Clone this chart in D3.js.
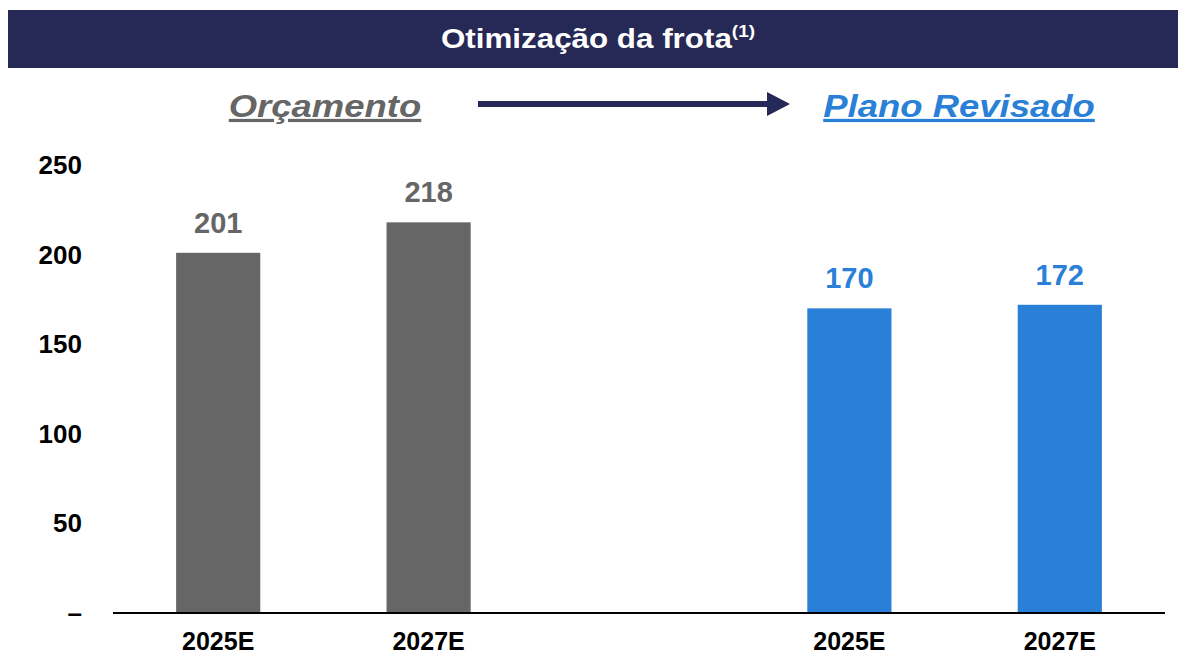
<!DOCTYPE html>
<html>
<head>
<meta charset="utf-8">
<script src="https://cdn.jsdelivr.net/npm/d3@7"></script>
<style>
  body { margin: 0; background: #fff; }
  text { font-family: "Liberation Sans", Arial, sans-serif; font-weight: bold; }
</style>
</head>
<body>
<div id="chart"></div>
<script>
const width = 1178
const height = 657
const margin = { left: 113, right: 13, top: 165, bottom: 44 }

const navy = "#262855"
const grey = "#666666"
const blue = "#2a7fd6"

// data
const slots = ["orc-2025E", "orc-2027E", "gap", "rev-2025E", "rev-2027E"]
const categories = ["orc-2025E", "orc-2027E", "rev-2025E", "rev-2027E"]
const yearLabels = ["2025E", "2027E", "2025E", "2027E"]
const values = [201, 218, 170, 172]
const groups = ["orc", "orc", "rev", "rev"]
const yTicks = [0, 50, 100, 150, 200, 250]

const svg = d3.select("#chart").append("svg").attr("width", width).attr("height", height)

// title bar
svg.append("rect").attr("x", 8).attr("y", 10).attr("width", width - 8).attr("height", 58).attr("fill", navy)
const title = svg.append("text")
    .attr("transform", "translate(598,48) scale(1.12,1)")
    .attr("text-anchor", "middle")
    .attr("fill", "white")
    .attr("font-size", 28)
title.append("tspan").text("Otimização da frota")
title.append("tspan").text("(1)").attr("font-size", 17).attr("dy", -11)

var x = d3.scaleBand().domain(slots).range([margin.left, width - margin.right]).paddingInner(0.6).paddingOuter(0.3)
var y = d3.scaleLinear().domain([0, 250]).range([height - margin.bottom, margin.top])

// sub headers
const subs = [
    { label: "Orçamento", cx: 325, color: grey },
    { label: "Plano Revisado", cx: 959, color: blue }
]
svg.append("g").selectAll("text")
    .data(subs)
    .join("text")
    .text(d => d.label)
    .attr("transform", d => `translate(${d.cx},117) scale(1.14,1)`)
    .attr("text-anchor", "middle").attr("font-style", "italic")
    .attr("font-size", 32).attr("fill", d => d.color)
    .attr("text-decoration", "underline")

// arrow
svg.append("line")
    .attr("x1", 478).attr("x2", 770).attr("y1", 104).attr("y2", 104)
    .attr("stroke", navy).attr("stroke-width", 6)
svg.append("path")
    .attr("d", "M767,92 L790,104 L767,116 Z")
    .attr("fill", navy)

// y axis labels
svg.append("g").selectAll("text")
    .data(yTicks)
    .join("text")
    .text(d => d === 0 ? "–" : d)
    .attr("x", 82)
    .attr("y", d => y(d) + 9)
    .attr("text-anchor", "end")
    .attr("font-size", 26)
    .attr("fill", "black")

// bars
svg.append("g").selectAll("rect")
    .data(categories)
    .join("rect")
    .attr("x", d => x(d))
    .attr("width", x.bandwidth())
    .attr("y", (d, i) => y(values[i]))
    .attr("height", (d, i) => y(0) - y(values[i]))
    .attr("fill", (d, i) => groups[i] === "orc" ? grey : blue)

// value labels
svg.append("g").selectAll("text")
    .data(categories)
    .join("text")
    .text((d, i) => values[i])
    .attr("x", d => x(d) + x.bandwidth() / 2)
    .attr("y", (d, i) => y(values[i]) - 20)
    .attr("text-anchor", "middle")
    .attr("font-size", 29)
    .attr("fill", (d, i) => groups[i] === "orc" ? grey : blue)

// baseline
svg.append("line")
    .attr("x1", margin.left).attr("x2", width - margin.right)
    .attr("y1", y(0)).attr("y2", y(0))
    .attr("stroke", "black").attr("stroke-width", 2)

// x labels
svg.append("g").selectAll("text")
    .data(categories)
    .join("text")
    .text((d, i) => yearLabels[i])
    .attr("x", d => x(d) + x.bandwidth() / 2)
    .attr("y", 650)
    .attr("text-anchor", "middle")
    .attr("font-size", 25)
    .attr("fill", "black")
</script>
</body>
</html>
